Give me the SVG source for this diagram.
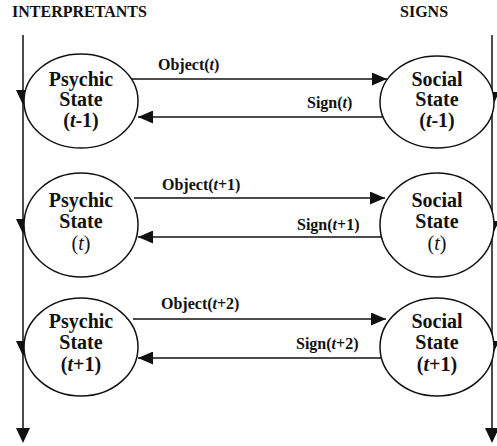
<svg xmlns="http://www.w3.org/2000/svg" width="497" height="446" viewBox="0 0 497 446">
<defs>
<style>
.bg{fill:#fff}
.node{fill:#fff;stroke:#111;stroke-width:1.5}
.nt{font-family:"Liberation Serif",serif;font-weight:bold;font-size:20px;fill:#111;text-anchor:middle}
.lb{font-family:"Liberation Serif",serif;font-weight:bold;font-size:16px;fill:#111}
.hd{font-family:"Liberation Serif",serif;font-weight:bold;font-size:16px;fill:#111}
.ln{stroke:#111;stroke-width:1.5;fill:none}
.ah{fill:#111}
.it{font-style:italic}
.rg{font-weight:normal}
</style>
<marker id="arr" viewBox="0 0 15 13" refX="15" refY="6.5" markerWidth="15" markerHeight="13" markerUnits="userSpaceOnUse" orient="auto">
<path d="M0,0 L15,6.5 L0,13 Z" fill="#111"/>
</marker>
</defs>
<rect class="bg" x="0" y="0" width="497" height="446"/>
<text class="hd" x="12" y="17">INTERPRETANTS</text>
<text class="hd" x="400" y="17">SIGNS</text>

<g id="connectors">
<line class="ln" x1="23" y1="35" x2="23" y2="441"/>
<line class="ln" x1="492" y1="35" x2="492" y2="441"/>
<g class="ah">
<polygon points="16,90 30,90 23,105"/>
<polygon points="16,219 30,219 23,234"/>
<polygon points="16,341 30,341 23,356"/>
<polygon points="16,428 30,428 23,443"/>
<polygon points="485,92 499,92 492,108"/>
<polygon points="485,221 499,221 492,236"/>
<polygon points="485,341 499,341 492,356"/>
<polygon points="485,428 499,428 492,443"/>
</g>
<line class="ln" x1="131" y1="79" x2="387" y2="79" marker-end="url(#arr)"/>
<line class="ln" x1="383" y1="117" x2="138" y2="117" marker-end="url(#arr)"/>
<line class="ln" x1="134" y1="198" x2="385" y2="198" marker-end="url(#arr)"/>
<line class="ln" x1="381" y1="237" x2="138" y2="237" marker-end="url(#arr)"/>
<line class="ln" x1="133" y1="319" x2="386" y2="319" marker-end="url(#arr)"/>
<line class="ln" x1="381" y1="358" x2="138" y2="358" marker-end="url(#arr)"/>
<text class="lb" x="158" y="70">Object(<tspan class="it">t</tspan>)</text>
<text class="lb" x="307" y="108">Sign(<tspan class="it">t</tspan>)</text>
<text class="lb" x="162" y="190">Object(<tspan class="it">t</tspan>+1)</text>
<text class="lb" x="297" y="230">Sign(<tspan class="it">t</tspan>+1)</text>
<text class="lb" x="161" y="309">Object(<tspan class="it">t</tspan>+2)</text>
<text class="lb" x="296" y="349">Sign(<tspan class="it">t</tspan>+2)</text>
</g>

<g id="psychic1">
<ellipse class="node" cx="81" cy="101" rx="57" ry="47"/>
<text class="nt" x="81" y="86">Psychic</text>
<text class="nt" x="81" y="106">State</text>
<text class="nt" x="81" y="127">(<tspan class="it">t</tspan>-1)</text>
</g>
<g id="social1">
<ellipse class="node" cx="437" cy="102" rx="57" ry="46"/>
<text class="nt" x="437" y="86">Social</text>
<text class="nt" x="437" y="106">State</text>
<text class="nt" x="437" y="127">(<tspan class="it">t</tspan>-1)</text>
</g>
<g id="psychic2">
<ellipse class="node" cx="81" cy="225" rx="57" ry="52"/>
<text class="nt" x="81" y="207">Psychic</text>
<text class="nt" x="81" y="228">State</text>
<text class="nt rg" x="81" y="250">(<tspan class="it">t</tspan>)</text>
</g>
<g id="social2">
<ellipse class="node" cx="437" cy="225" rx="57" ry="52"/>
<text class="nt" x="437" y="207">Social</text>
<text class="nt" x="437" y="228">State</text>
<text class="nt rg" x="437" y="250">(<tspan class="it">t</tspan>)</text>
</g>
<g id="psychic3">
<ellipse class="node" cx="81" cy="347" rx="57" ry="49"/>
<text class="nt" x="81" y="328">Psychic</text>
<text class="nt" x="81" y="349">State</text>
<text class="nt" x="81" y="371">(<tspan class="it">t</tspan>+1)</text>
</g>
<g id="social3">
<ellipse class="node" cx="437" cy="347" rx="57" ry="49"/>
<text class="nt" x="437" y="328">Social</text>
<text class="nt" x="437" y="349">State</text>
<text class="nt" x="437" y="371">(<tspan class="it">t</tspan>+1)</text>
</g>
</svg>
